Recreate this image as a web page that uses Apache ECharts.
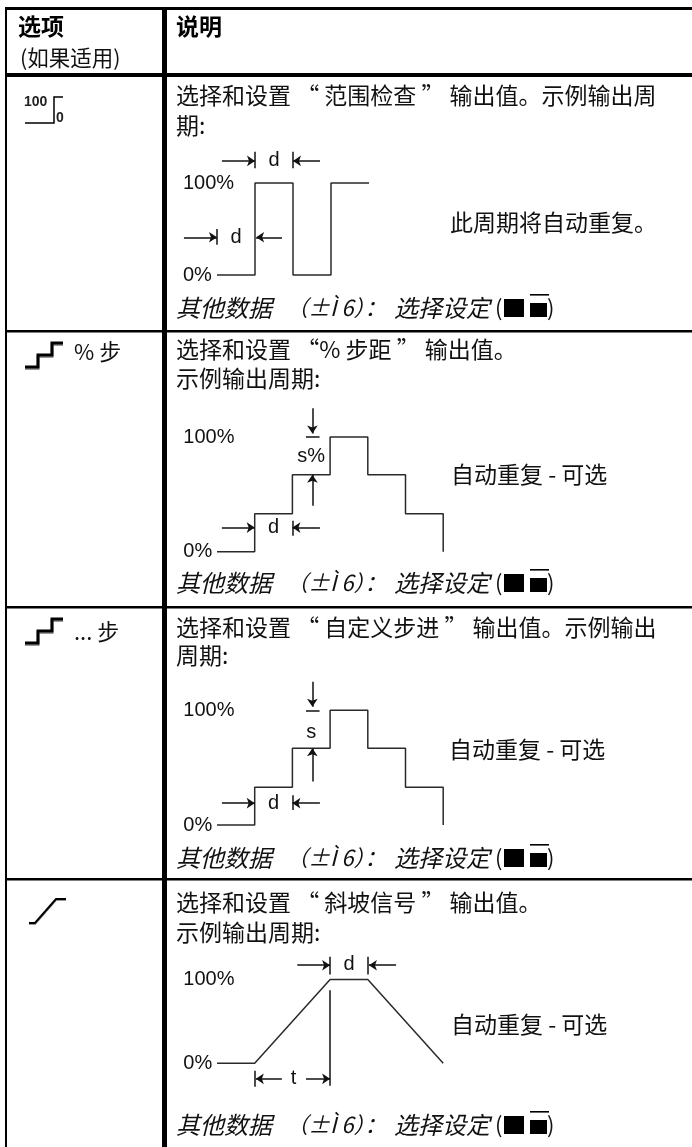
<!DOCTYPE html>
<html><head><meta charset="utf-8">
<style>html,body{margin:0;padding:0;background:#fff}#c{width:692px;height:1147px}</style>
<script src="https://cdn.jsdelivr.net/npm/echarts@6/dist/echarts.min.js"></script>
</head><body><div id="c"></div>
<script>
// waveforms: [time in units of d, output %]
const rangeWave = [[0,0],[1,0],[1,100],[2,100],[2,0],[3,0],[3,100],[4,100]];
const pctStepWave = [[0,0],[1,0],[1,33],[2,33],[2,67],[3,67],[3,100],[4,100],[4,67],[5,67],[5,33],[6,33],[6,0]];
const customStepWave = [[0,0],[1,0],[1,33],[2,33],[2,67],[3,67],[3,100],[4,100],[4,67],[5,67],[5,33],[6,33],[6,0]];
const rampWave = [[0,0],[1,0],[3,100],[4,100],[6,0]];
const yTicks = {0:'0%',100:'100%'};
// dimension marks in chart units: [x1,y1,x2,y2,arrow?]
const rangeDims = [[.13,124,1,124,1],[1,134,1,116,0],[2,134,2,116,0],[2.71,124,2,124,1],[-.87,41,0,41,1],[0,50,0,33,0],[1.71,41,1.03,41,1]];
const pctDims = [[2.53,125,2.53,103,1],[2.36,100,2.72,100,0],[2.53,40,2.53,67,1],[.13,21,1,21,1],[2,27,2,14,0],[2.73,21,2,21,1]];
const customDims = [[2.53,125,2.53,103,1],[2.36,100,2.72,100,0],[2.53,38,2.53,67,1],[.13,19,1,19,1],[2,26,2,13,0],[2.73,19,2,19,1]];
const rampDims = [[2.13,117,3,117,1],[3,127,3,106,0],[4,127,4,106,0],[4.75,117,4.03,117,1],[3,87,3,-27,0],[1,-9,1,-28,0],[1.72,-18.6,1.03,-18.6,1],[2.36,-18.6,3,-18.6,1]];
const rangeLabels = [[1.5,125,'d'],[.5,41,'d']];
const pctLabels = [[1.5,21,'d'],[2.5,83,'s%']];
const customLabels = [[1.5,19,'d'],[2.5,81,'s']];
const rampLabels = [[3.5,118,'d'],[2.03,-18.6,'t']];
const noteParts = ['其他数据','（±Ì 6）：','选择设定'];
const header = ['选项','(如果适用)','说明'];

const CJK='"Noto Sans CJK SC","Noto Sans",sans-serif', LAT='"Liberation Sans",Arial,sans-serif';
const INK='#2a2a2a', FS=23;
const panels=[
 {wave:rangeWave,dims:rangeDims,labels:rangeLabels,left:179,unit:38,xmax:4,top100:183,bot0:275},
 {wave:pctStepWave,dims:pctDims,labels:pctLabels,left:179.3,unit:37.7,xmax:6,top100:437,bot0:551.7},
 {wave:customStepWave,dims:customDims,labels:customLabels,left:179.3,unit:37.7,xmax:6,top100:710.3,bot0:825},
 {wave:rampWave,dims:rampDims,labels:rampLabels,left:179.3,unit:37.7,xmax:6,top100:980,bot0:1064.3}
];
const grid=[],xAxis=[],yAxis=[],series=[];
panels.forEach((p,i)=>{
  const h=p.bot0-p.top100;
  grid.push({left:p.left,top:p.top100-h,width:p.unit*(p.xmax+1),height:h*3});
  xAxis.push({gridIndex:i,type:'value',min:-1,max:p.xmax,show:false,splitLine:{show:false}});
  yAxis.push({gridIndex:i,type:'value',min:-100,max:200,interval:100,
    axisLine:{show:false},axisTick:{show:false},splitLine:{show:false},
    axisLabel:{align:'left',margin:-4,color:'#111',fontFamily:LAT,fontSize:20,formatter:v=>yTicks[v]||''}});
  series.push({type:'line',xAxisIndex:i,yAxisIndex:i,data:p.wave,showSymbol:false,symbol:'none',silent:true,
    lineStyle:{color:INK,width:1.5},animation:false,z:3});
  series.push({type:'lines',coordinateSystem:'cartesian2d',xAxisIndex:i,yAxisIndex:i,silent:true,animation:false,
    clip:false,z:4,
    data:p.dims.filter(d=>d[4]).map(d=>({coords:[[d[0],d[1]],[d[2],d[3]]]})),
    symbol:['none','arrow'],symbolSize:[0,8],lineStyle:{color:'#111',width:1.5,opacity:1,curveness:0}});
  series.push({type:'lines',coordinateSystem:'cartesian2d',xAxisIndex:i,yAxisIndex:i,silent:true,animation:false,
    clip:false,z:4,
    data:p.dims.filter(d=>!d[4]).map(d=>({coords:[[d[0],d[1]],[d[2],d[3]]]})),
    symbol:['none','none'],lineStyle:{color:'#111',width:1.5,opacity:1,curveness:0}});
  series.push({type:'scatter',xAxisIndex:i,yAxisIndex:i,silent:true,animation:false,symbolSize:1,itemStyle:{color:'transparent'},z:5,
    data:p.labels,
    label:{show:true,position:'inside',opacity:1,formatter:q=>q.value[2],color:'#111',fontFamily:LAT,fontSize:20}});
});

const g=[];
const rect=(x,y,w,h,c='#000')=>g.push({type:'rect',silent:true,z:10,shape:{x,y,width:w,height:h},style:{fill:c}});
// frame
rect(5,7,2,1140); rect(162,7,5,1140);
rect(5,7,687,3); rect(5,73,687,4); rect(5,330,687,2.5); rect(5,606,687,2.5); rect(5,878,687,2.5);
const T=(x,y,t,st='normal',sz=FS,ff=CJK,col='#111')=>g.push({type:'text',silent:true,z:10,x,y,style:{text:t,fill:col,font:`${st} ${sz}px ${ff}`,verticalAlign:'middle'}});
// header
T(18,26,header[0],'bold',23,CJK,'#000');
T(20,58,header[1],'normal',21.5);
T(176,26,header[2],'bold',23,CJK,'#000');
T(176,95,'选择和设置 “ 范围检查 ” 输出值。示例输出周');
T(176,125,'期:');
T(450,222,'此周期将自动重复。');
T(176,349,'选择和设置 “% 步距 ” 输出值。');
T(176,378,'示例输出周期:');
T(451,474,'自动重复 - 可选');
T(176,627,'选择和设置 “ 自定义步进 ” 输出值。示例输出');
T(176,655,'周期:');
T(449,749,'自动重复 - 可选');
T(176,902,'选择和设置 “ 斜坡信号 ” 输出值。');
T(176,932,'示例输出周期:');
T(451,1024,'自动重复 - 可选');
T(74,352,'% 步','normal',22); T(74,632,'... 步','normal',22);
[308,583,858,1125].forEach(y=>{
  T(176,y,noteParts[0],'italic',24);
  T(286,y,noteParts[1],'italic',22);
  T(394,y,noteParts[2],'italic',24);
  T(495,y,'(','normal',22);
  rect(504,y-9,20,18);
  rect(530,y-5,17,14);
  rect(530,y-14,19,1.6);
  T(547,y,')','normal',22);
});
// option icons
const icon=(pts,w,c='#000',z=10)=>g.push({type:'polyline',silent:true,z,shape:{points:pts},style:{stroke:c,lineWidth:w,fill:null}});
icon([[25,123],[54,123],[54,97],[63,97]],1.5);
T(24,102,'100','bold',14,LAT,'#222');
T(56,118,'0','bold',14,LAT,'#222');
const stepPts=y=>[[25,y+24],[38,y+24],[38,y+12],[52,y+12],[52,y],[63,y]];
[343,619].forEach(y=>{
  icon(stepPts(y).map(q=>[q[0],q[1]+1.5]),3,'#999',9);
  icon(stepPts(y),3);
});
const rampPts=[[29,923],[35,923],[56,899],[66,899]];
icon(rampPts.map(q=>[q[0],q[1]+1]),2,'#999',9);
icon(rampPts,2);

const chart=echarts.init(document.getElementById('c'),null,{renderer:'canvas'});
chart.setOption({animation:false,backgroundColor:'#fff',tooltip:{show:false},grid,xAxis,yAxis,series,graphic:g});
</script></body></html>
